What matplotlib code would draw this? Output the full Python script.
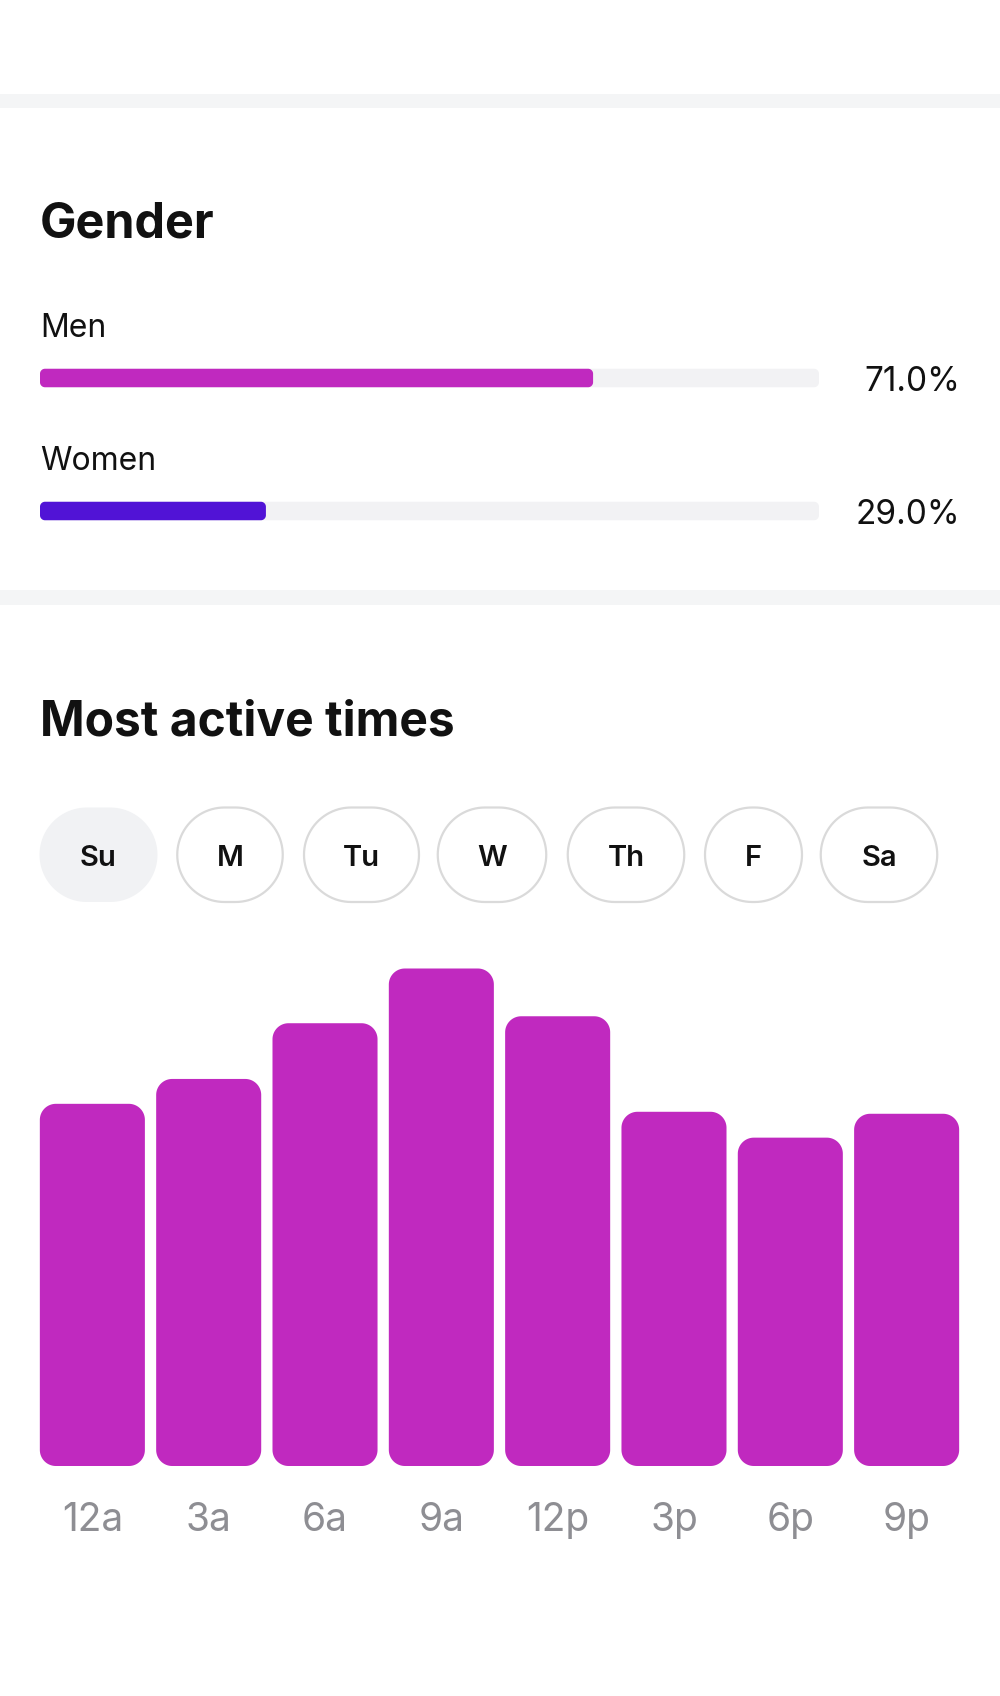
import numpy as np
import matplotlib
matplotlib.use("Agg")
import matplotlib.pyplot as plt
from matplotlib.patches import PathPatch, Rectangle
from matplotlib.path import Path

plt.rcParams['font.family'] = ['Inter', 'DejaVu Sans']

# ---------------- data ----------------
gender_labels = ["Men", "Women"]
gender_values = [71.0, 29.0]
day_labels = ["Su", "M", "Tu", "W", "Th", "F", "Sa"]
selected_day = "Su"
hour_labels = ["12a", "3a", "6a", "9a", "12p", "3p", "6p", "9p"]
activity_values = [72.8, 77.8, 89.0, 100.0, 90.4, 71.2, 66.0, 70.8]

# ---------------- style ----------------
MAGENTA = '#c029bf'
VIOLET = '#5113d6'
TRACK = '#f2f2f4'
SEP = '#f4f5f6'
INK = '#111111'
GREY_TXT = '#8e8e93'

W, H = 1000, 1696
DPI = 100
fig = plt.figure(figsize=(W / DPI, H / DPI), dpi=DPI)
fig.patch.set_facecolor('white')


def px_axes(x0, y0, x1, y1):
    """axes placed with pixel coords, origin at top-left"""
    return fig.add_axes([x0 / W, 1 - y1 / H, (x1 - x0) / W, (y1 - y0) / H])


def rrect_path(x, y, w, h, rx, ry, n=24):
    rx = min(rx, abs(w) / 2)
    ry = min(ry, abs(h) / 2)
    verts = []
    corners = [(x + w - rx, y + h - ry, 0, 90), (x + rx, y + h - ry, 90, 180),
               (x + rx, y + ry, 180, 270), (x + w - rx, y + ry, 270, 360)]
    for cx, cy, a0, a1 in corners:
        t = np.radians(np.linspace(a0, a1, n))
        verts += list(zip(cx + rx * np.cos(t), cy + ry * np.sin(t)))
    verts.append(verts[0])
    codes = [Path.MOVETO] + [Path.LINETO] * (len(verts) - 2) + [Path.CLOSEPOLY]
    return Path(verts, codes)


def round_bars(ax, bars, r_px, colors):
    bb = ax.get_window_extent()
    x0, x1 = ax.get_xlim()
    y0, y1 = ax.get_ylim()
    xpp = abs(x1 - x0) / bb.width
    ypp = abs(y1 - y0) / bb.height
    for b, c in zip(bars, colors):
        x, y, w, h = b.get_x(), b.get_y(), b.get_width(), b.get_height()
        b.remove()
        ax.add_patch(PathPatch(rrect_path(x, y, w, h, r_px * xpp, r_px * ypp),
                               facecolor=c, edgecolor='none'))


# background / decorative axes in pixel units
bg = px_axes(0, 0, W, H)
bg.set_xlim(0, W)
bg.set_ylim(H, 0)
bg.axis('off')
bg.set_zorder(0)

for ya, yb in [(94, 108), (590, 605)]:
    bg.add_patch(Rectangle((0, ya), W, yb - ya, facecolor=SEP, edgecolor='none'))

bg.text(40, 237, "Gender", fontsize=35, fontweight='bold', color=INK,
        ha='left', va='baseline')
bg.text(40, 735, "Most active times", fontsize=34.5, fontweight='bold', color=INK,
        ha='left', va='baseline')

# day pills
pill_cx = [98.5, 230, 361.5, 492, 626, 753.5, 879]
pill_w = [118, 105.5, 115, 108.5, 116.5, 97, 116.5]
pill_top, pill_h = 807.5, 94.5
for lab, cx, w in zip(day_labels, pill_cx, pill_w):
    sel = lab == selected_day
    bg.add_patch(PathPatch(rrect_path(cx - w / 2, pill_top, w, pill_h, pill_h / 2, pill_h / 2),
                           facecolor='#f1f2f4' if sel else 'white',
                           edgecolor='none' if sel else '#dadada',
                           linewidth=0 if sel else 1.6))
    bg.text(cx, 866.5, lab, fontsize=21, fontweight='semibold',
            color=INK, ha='center', va='baseline')

# ---------------- gender bars ----------------
gx = px_axes(40, 311.5, 819, 577.5)
gx.set_xlim(0, 100)
gx.set_ylim(1.5, -0.5)
gx.axis('off')
gx.patch.set_alpha(0)
ypos = list(range(len(gender_labels)))
track = gx.barh(ypos, [100] * len(gender_values), height=0.139)
round_bars(gx, track, 5, [TRACK] * len(gender_values))
fill = gx.barh(ypos, gender_values, height=0.139)
round_bars(gx, fill, 5, [MAGENTA, VIOLET])
for i, (lab, v) in enumerate(zip(gender_labels, gender_values)):
    gx.text(0, i - 0.312, lab, fontsize=23, color=INK, ha='left', va='baseline',
            clip_on=False)
    gx.text(118.15, i + 0.094, f"{v:.1f}%", fontsize=24, color=INK, ha='right',
            va='baseline', clip_on=False)

# ---------------- activity bars ----------------
bx = px_axes(34.2, 940, 964.8, 1466)
n = len(hour_labels)
bx.set_xlim(-0.5, n - 0.5)
bx.set_ylim(0, 100 * 526 / 497.5)
bx.patch.set_alpha(0)
for s in bx.spines.values():
    s.set_visible(False)
bars = bx.bar(range(n), activity_values, width=0.903)
round_bars(bx, bars, 16, [MAGENTA] * n)
bx.set_xticks(range(n), hour_labels)
bx.set_yticks([])
bx.tick_params(axis='x', length=0, pad=26, labelsize=28, labelcolor=GREY_TXT)

fig.savefig("out.png", dpi=DPI, facecolor='white')
